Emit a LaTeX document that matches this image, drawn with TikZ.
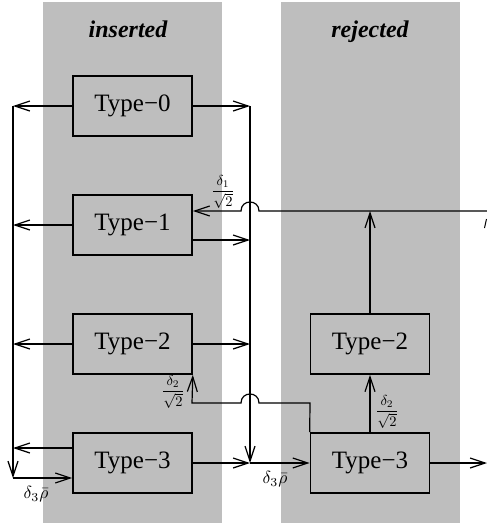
\documentclass[tikz,border=0pt]{standalone}
\usepackage[no-math]{fontspec}
\setmainfont{Liberation Serif}
\usetikzlibrary{arrows.meta}
\definecolor{panel}{RGB}{190,190,190}
\newcommand{\fracl}[1]{\scalebox{1.45}{$\displaystyle\frac{\delta_{#1}}{\sqrt{2}}$}}
\newcommand{\rhol}{\scalebox{1.75}{$\delta_3\bar\rho$}}
\begin{document}
\begin{tikzpicture}[x=1pt,y=-1pt,
  box/.style={draw, line width=1.6pt, fill=panel, minimum width=119pt, minimum height=60pt, inner sep=0pt, font=\fontsize{25}{28}\selectfont},
  arr/.style={-{Straight Barb[length=15pt,width=10pt]}, line width=1.2pt},
  title/.style={font=\fontsize{24}{28}\selectfont\bfseries\itshape, anchor=base},
  lab/.style={inner sep=0pt}]
\useasboundingbox (0,0) rectangle (487,525);
% panels
\fill[panel] (43,2) rectangle (222,523);
\fill[panel] (281,2) rectangle (460,523);
\node[title] (tin) at (128,37) {inserted};
\node[title] (trj) at (370,37) {rejected};
% boxes
\node[box] (t0) at (132.5,106) {Type−0};
\node[box] (t1) at (132.5,225) {Type−1};
\node[box] (t2) at (132.5,344) {Type−2};
\node[box] (t3) at (132.5,463) {Type−3};
\node[box] (r2) at (370,344) {Type−2};
\node[box] (r3) at (370,463) {Type−3};
% coordinates
\coordinate (Ltop) at (13,106);
\coordinate (Lbot) at (13,478);
\coordinate (Rtop) at (250,106);
\coordinate (Rbot) at (250,463);
\coordinate (in1) at (487,211);
\coordinate (out3) at (487,463);
% left bus
\draw[arr] (t0.west) -- (Ltop);
\draw[arr] (t1.west) -- (t1.west -| Ltop);
\draw[arr] (t2.west) -- (t2.west -| Ltop);
\draw[arr] ([yshift=15pt]t3.west) -- ([yshift=15pt]t3.west -| Ltop);
\draw[arr] (Ltop) -- (Lbot);
\draw[arr] (Lbot) -- (Lbot -| t3.west);
% right bus
\draw[arr] (t0.east) -- (Rtop);
\draw[arr] ([yshift=-15pt]t1.east) -- ([yshift=-15pt]t1.east -| Rtop);
\draw[arr] (t2.east) -- (t2.east -| Rtop);
\draw[arr] (t3.east) -- (Rbot);
\draw[arr] (Rtop) -- (Rbot);
\draw[arr] (Rbot) -- (r3.west);
\draw[arr] (r3.east) -- (out3);
% input to Type-1 with hop
\draw[arr] (in1) -- (259,211) .. controls (259,199) and (241,199) .. (241,211) -- (in1 -| t1.east);
\draw[arr] (r2.north) -- (r2.north |- in1);
% rejected 3 -> rejected 2
\draw[arr] (r3.north) -- (r2.south);
% rejected 3 -> inserted 2 with hop
\draw[arr] (r3.north west) -- (310,403) -- (259,403) .. controls (259,391) and (241,391) .. (241,403) -- (192,403) -- (t2.south east);
% labels
\node[lab] (l1) at (223,192) {\fracl{1}};
\node[lab] (l2) at (173,392) {\fracl{2}};
\node[lab] (l3) at (387,412) {\fracl{2}};
\node[lab] (l4) at (36,494) {\rhol};
\node[lab] (l5) at (275,479) {\rhol};
\draw[line width=1pt] (484.5,228) -- (486.5,219);
\end{tikzpicture}
\end{document}
